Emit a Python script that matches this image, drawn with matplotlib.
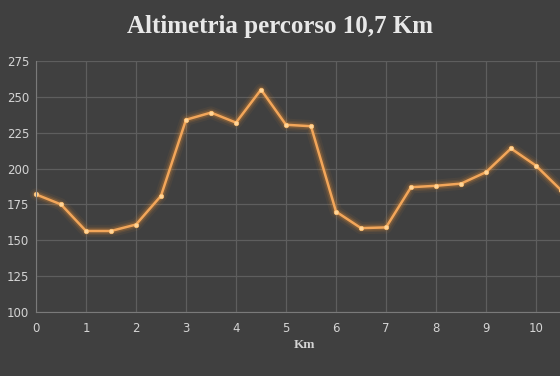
import matplotlib.pyplot as plt

# Dati altimetria (km, metri)
km = [0, 0.5, 1, 1.5, 2, 2.5, 3, 3.5, 4, 4.5, 5, 5.5, 6, 6.5, 7, 7.5, 8, 8.5, 9, 9.5, 10, 10.5]
quota = [182, 175, 156.5, 156.5, 161, 181, 234, 239, 232, 255, 230.5, 229.5,
         170, 158.5, 159, 187, 188, 189.5, 197.5, 214, 202, 185]
x_ticks = list(range(0, 11))
y_ticks = [100, 125, 150, 175, 200, 225, 250, 275]

bg = '#404040'
grid_col = '#5e5e5e'
text_col = '#d4d4d4'
line_col = '#f2a65a'

fig = plt.figure(figsize=(5.6, 3.76), dpi=100, facecolor=bg)
ax = fig.add_axes([0.0643, 0.170, 0.9357, 0.668], facecolor=bg)

# effetto bagliore
for lw, a in [(9, 0.06), (6, 0.10), (4, 0.18)]:
    ax.plot(km, quota, color='#ff9a30', lw=lw, alpha=a, solid_capstyle='round',
            solid_joinstyle='round', clip_on=False)
ax.plot(km, quota, color=line_col, lw=1.8, marker='o', markersize=3.2,
        markerfacecolor='#ffd59a', markeredgecolor='#ffc070', markeredgewidth=0.5,
        clip_on=False)

ax.set_xlim(0, 10.48)
ax.set_ylim(100, 275)
ax.set_xticks(x_ticks)
ax.set_yticks(y_ticks)
ax.grid(True, color=grid_col, lw=0.9)
ax.set_axisbelow(True)
for s in ['top', 'right']:
    ax.spines[s].set_visible(False)
ax.spines['left'].set_color('#7a7a7a')
ax.spines['bottom'].set_color('#7a7a7a')
ax.tick_params(colors=text_col, length=0, labelsize=8.5)
ax.tick_params(axis='x', pad=7)
ax.tick_params(axis='y', pad=5)
for lab in ax.get_xticklabels() + ax.get_yticklabels():
    lab.set_color(text_col)

ax.set_xlabel('Km', color=text_col, fontsize=9.5, fontweight='bold',
              family='Liberation Serif')
ax.xaxis.set_label_coords(0.513, -0.131)
ax.xaxis.label.set_va('center')

fig.text(0.5, 0.93, 'Altimetria percorso 10,7 Km', ha='center', va='center',
         color='#e8e8e8', fontsize=18, fontweight='bold', family='Liberation Serif')

fig.savefig('out.png', dpi=100, facecolor=bg)
